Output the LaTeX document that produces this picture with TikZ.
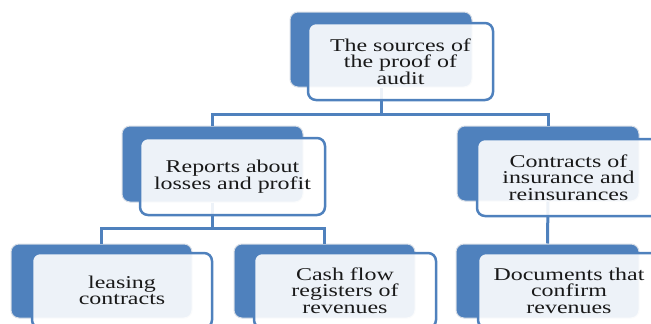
\documentclass[tikz,border=0pt]{standalone}
\usepackage{fontspec}
\setmainfont{Liberation Serif}[FakeStretch=1.33]
\definecolor{oblue}{HTML}{4F81BD}
\definecolor{oedge}{HTML}{D6DDE6}
\begin{document}
\begin{tikzpicture}[x=1pt,y=-1pt,
  backbox/.style={draw=oedge, line width=1pt, fill=oblue, rounded corners=8pt, inner sep=0pt},
  frontbox/.style={draw=oblue, line width=2.5pt, fill=white, fill opacity=0.9, text opacity=1, rounded corners=8pt, inner sep=0pt, align=center, font=\fontsize{18pt}{16.5pt}\selectfont, text=black!90},
  conn/.style={draw=oblue, line width=3pt}]
\useasboundingbox (0,0) rectangle (651,324);
\clip (0,0) rectangle (651,324);
% back boxes
\node[backbox, minimum width=182pt, minimum height=75pt] (b1) at (381,49.5) {};
\node[backbox, minimum width=181pt, minimum height=76pt] (b2) at (212.5,164) {};
\node[backbox, minimum width=182pt, minimum height=75pt] (b3) at (548,163.5) {};
\node[backbox, minimum width=181pt, minimum height=74pt] (b4) at (101.5,281) {};
\node[backbox, minimum width=181pt, minimum height=74pt] (b5) at (324.5,281) {};
\node[backbox, minimum width=183pt, minimum height=74pt] (b6) at (547.5,281) {};
% connectors
\draw[conn] (b1.south) -- ++(0,27) coordinate (j1);
\draw[conn] (j1) -| (b2.north);
\draw[conn] (j1) -| (b3.north);
\draw[conn] (b2.south) -- ++(0,26) coordinate (j2);
\draw[conn] (j2) -| (b4.north);
\draw[conn] (j2) -| (b5.north);
\draw[conn] (b3.south) -- (b6.north);
% front boxes
\node[frontbox, minimum width=185pt, minimum height=77pt] (f1) at (400.5,61.5) {The sources of\\the proof of\\audit};
\node[frontbox, minimum width=185pt, minimum height=77pt] (f2) at (232.5,176.5) {Reports about\\losses and profit};
\node[frontbox, minimum width=183pt, minimum height=77pt] (f3) at (568.5,177.5) {Contracts of\\insurance and\\reinsurances};
\node[frontbox, minimum width=180pt, minimum height=75pt] (f4) at (122,290.5) {leasing\\contracts};
\node[frontbox, minimum width=182pt, minimum height=75pt] (f5) at (345,290.5) {Cash flow\\registers of\\revenues};
\node[frontbox, minimum width=182pt, minimum height=75pt] (f6) at (569,290.5) {Documents that\\confirm\\revenues};
\end{tikzpicture}
\end{document}
